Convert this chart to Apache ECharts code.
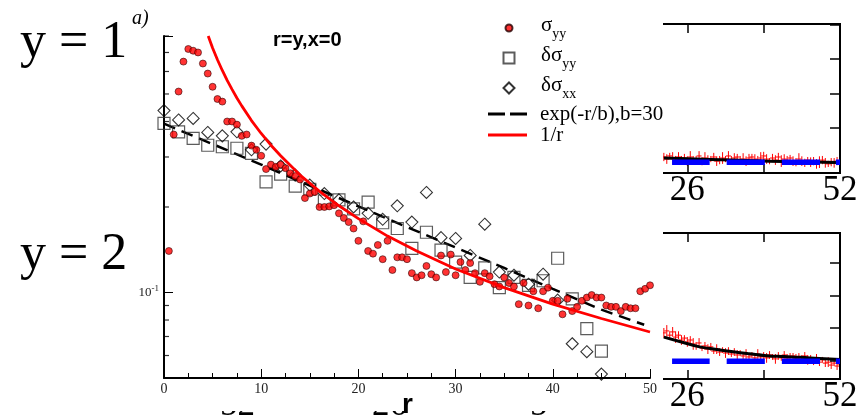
<!DOCTYPE html>
<html><head><meta charset="utf-8">
<script src="https://cdn.jsdelivr.net/npm/echarts@6/dist/echarts.min.js"></script>
<style>html,body{margin:0;padding:0;background:#fff}#c{width:862px;height:419px}</style>
</head><body><div id="c"></div>
<script>
// ---------- main panel data ----------
const sigmaR = [0.5,1,1.5,2,2.5,3,3.5,4,4.5,5,5.5,6,6.5,7,7.5,8,8.5,9,9.5,10,10.5,11,11.5,12,12.5,13,13.5,14,14.5,15,15.5,16,16.5,17,17.5,18,18.5,19,19.5,20,20.5,21,21.5,22,22.5,23,23.5,24,24.5,25,25.5,26,26.5,27,27.5,28,28.5,29,29.5,30,30.5,31,31.5,32,32.5,33,33.5,34,34.5,35,35.5,36,36.5,37,37.5,38,38.5,39,39.5,40,40.5,41,41.5,42,42.5,43,43.5,44,44.5,45,45.5,46,46.5,47,47.5,48,48.5,49,49.5,50];
const sigmaYY = [0.140,0.36,0.51,0.65,0.72,0.71,0.70,0.64,0.59,0.53,
0.48,0.47,0.40,0.40,0.39,0.356,0.36,0.329,0.318,0.303,
0.272,0.282,0.277,0.282,0.274,0.263,0.257,0.250,0.215,0.223,
0.226,0.200,0.200,0.201,0.203,0.190,0.183,0.177,0.168,0.152,
0.178,0.140,0.137,0.147,0.131,0.152,0.120,0.133,0.133,0.131,
0.117,0.113,0.115,0.124,0.116,0.113,0.135,0.118,0.136,0.115,
0.128,0.120,0.127,0.117,0.109,0.117,0.114,0.107,0.105,0.113,
0.108,0.105,0.091,0.108,0.090,0.101,0.088,0.101,0.104,0.0935,
0.0935,0.0838,0.095,0.086,0.089,0.0935,0.096,0.098,0.096,0.096,
0.090,0.089,0.089,0.086,0.089,0.088,0.088,0.101,0.103,0.106];
const deltaR = [0,1.5,3,4.5,6,7.5,9,10.5,12,13.5,15,16.5,18,19.5,21,22.5,24,25.5,27,28.5,30,31.5,33,34.5,36,37.5,39,40.5,42,43.5,45];
const dSigmaYY = [0.394,0.368,0.349,0.330,0.326,0.322,0.309,0.245,0.261,0.237,0.231,0.210,0.212,0.197,0.208,0.176,0.168,0.143,0.163,0.141,0.128,0.113,0.122,0.104,0.113,0.106,0.110,0.132,0.095,0.0746,0.0622];
const dSigmaXX = [0.437,0.405,0.410,0.366,0.356,0.368,0.318,0.333,0.279,0.259,0.239,0.223,0.212,0.200,0.190,0.181,0.202,0.177,0.225,0.156,0.155,0.135,0.174,0.118,0.115,0.107,0.116,0.094,0.066,0.0619,0.0516];
const expR = [0,5,10,15,20,25,30,35,40,45,49.4];
const expV = [0.393,0.333,0.282,0.238,0.201,0.170,0.144,0.122,0.103,0.087,0.077];
const invR = [4.55,5,5.5,6,6.5,7,7.5,8,9,10,11,12,14,16,18,20,23,26,30,35,40,45,50];
const invV = [0.80,0.726,0.660,0.605,0.558,0.519,0.484,0.454,0.403,0.363,0.330,0.303,0.259,0.227,0.202,0.182,0.158,0.140,0.121,0.104,0.091,0.081,0.0726];
const xTickLabels = ['0','10','20','30','40','50'];
const yMinorTicks = [0.06,0.07,0.08,0.09,0.2,0.3,0.4,0.5,0.6,0.7,0.8];

// ---------- right-hand panels data (arbitrary units) ----------
const rpX = [22,22.5,23,23.5,24,24.5,25,25.5,26,26.5,27,27.5,28,28.5,29,29.5,30,30.5,31,31.5,32,32.5,33,33.5,34,34.5,35,35.5,36,36.5,37,37.5,38,38.5,39,39.5,40,40.5,41,41.5,42,42.5,43,43.5,44,44.5,45,45.5,46,46.5,47,47.5,48,48.5,49,49.5,50,50.5,51,51.5,52];
const topRed = [0.16,0.10,0.19,0.13,0.07,0.16,0.10,0.13,0.04,0.16,0.07,0.10,0.19,0.04,0.13,0.07,0.10,0.16,0.04,0.07,0.13,0.10,0.19,0.07,0.13,0.16,0.07,0.10,0.04,0.13,0.16,0.10,0.07,0.13,0.19,0.10,0.04,0.13,0.07,0.16,0.04,0.10,0.07,0.13,0.04,0.01,0.10,0.04,-0.01,0.07,0.01,0.04,-0.04,0.01,0.07,-0.01,-0.04,0.01,-0.01,0.04,0.01];
const topErr = [0.12,0.14,0.09,0.17,0.12,0.14,0.09,0.12,0.14,0.17,0.12,0.09,0.14,0.12,0.17,0.14,0.09,0.12,0.14,0.12,0.17,0.09,0.14,0.12,0.14,0.09,0.12,0.17,0.14,0.12,0.09,0.14,0.12,0.17,0.12,0.14,0.09,0.12,0.14,0.12,0.17,0.14,0.12,0.09,0.14,0.12,0.17,0.14,0.12,0.09,0.14,0.12,0.14,0.17,0.12,0.14,0.09,0.12,0.14,0.12,0.14];
const topFitX = [22,30,40,52];
const topFitV = [0.13,0.09,0.04,0.0];
const botRed = [0.85,0.91,0.78,0.88,0.72,0.78,0.63,0.69,0.57,0.63,0.51,0.45,0.54,0.38,0.45,0.35,0.42,0.29,0.35,0.26,0.32,0.23,0.29,0.20,0.26,0.17,0.23,0.14,0.20,0.11,0.17,0.08,0.20,0.11,0.14,0.08,0.17,0.11,0.05,0.14,0.08,0.17,0.05,0.11,0.14,0.05,0.11,0.08,0.14,0.02,0.08,-0.02,0.05,-0.05,0.02,-0.08,-0.05,-0.14,-0.08,-0.17,-0.11];
const botErr = [0.15,0.18,0.12,0.15,0.18,0.12,0.15,0.09,0.15,0.12,0.18,0.12,0.15,0.09,0.12,0.15,0.12,0.09,0.15,0.12,0.09,0.15,0.12,0.09,0.12,0.15,0.09,0.12,0.15,0.12,0.09,0.12,0.15,0.09,0.12,0.15,0.12,0.09,0.15,0.12,0.09,0.12,0.15,0.12,0.09,0.15,0.12,0.09,0.12,0.15,0.09,0.12,0.15,0.12,0.09,0.12,0.15,0.12,0.09,0.12,0.15];
const botFitX = [22,25,28.1,31,33.8,36.5,39.5,42.5,45.2,48.5,52];
const botFitV = [0.72,0.57,0.42,0.34,0.27,0.21,0.15,0.12,0.10,0.06,0.03];
const blueX = [23.4,29.8,null,32.7,39.2,null,42.1,48.6,null,51.3,52];
const topBlue = 0.01, botBlue = -0.02;
const rpLabels = [26, 52];

const pairs = (xs, ys) => xs.map((x, i) => [x, ys[i]]);
const blueData = v => blueX.map(x => x === null ? ['-', '-'] : [x, v]);

const serif = 'Liberation Serif, Times New Roman, serif';
const sans = 'Liberation Sans, Arial, sans-serif';
const labelMap = {
  'σyy': '{m|σ}{s|yy}',
  'δσyy': '{m|δσ}{s|yy}',
  'δσxx': '{m|δσ}{s|xx}',
  'exp(-r/b),b=30': '{m|exp(-r/b),b=30}',
  '1/r': '{m|1/r}'
};
function mkLegend(name, left, top, iw, ih, pad, icon) {
  return {data: [icon ? {name: name, icon: icon} : name], left: left, top: top,
    itemWidth: iw, itemHeight: ih, padding: 0, selectedMode: false,
    formatter: n => labelMap[n],
    textStyle: {rich: {
      m: {fontFamily: serif, fontSize: 21, color: '#000', verticalAlign: 'top', padding: [0,0,0,pad]},
      s: {fontFamily: serif, fontSize: 14, color: '#000', padding: [13,0,0,0]}
    }}};
}

function errRender(params, api) {
  const x = api.value(0), y = api.value(1), e = api.value(2);
  const p = api.coord([x, y]), hi = api.coord([x, y + e]), lo = api.coord([x, y - e]);
  return {type: 'group', children: [
    {type: 'line', shape: {x1: p[0], y1: hi[1], x2: p[0], y2: lo[1]}, style: {stroke: '#ff0000', lineWidth: 1}},
    {type: 'line', shape: {x1: p[0] - 2.5, y1: p[1], x2: p[0] + 2.5, y2: p[1]}, style: {stroke: '#ff0000', lineWidth: 1}}
  ]};
}

const chart = echarts.init(document.getElementById('c'), null, {renderer: 'canvas'});
const axLine = {show: true, onZero: false, lineStyle: {color: '#000', width: 2}};
const rpXAxis = (grid, pos, margin) => ({
  gridIndex: grid, type: 'value', min: 13, max: 52, interval: 13, position: pos, z: 0,
  axisLine: axLine, splitLine: {show: false},
  axisTick: {show: true, inside: true, length: 9, lineStyle: {color: '#000', width: 1.5}},
  axisLabel: margin != null ? {show: true, customValues: rpLabels, fontFamily: serif, fontSize: 35, color: '#000', margin: margin} : {show: false}
});
const rpYAxis = (grid, min, max) => ({
  gridIndex: grid, type: 'value', min: min, max: max, position: 'right', z: 0,
  axisLine: axLine, splitLine: {show: false}, axisLabel: {show: false},
  axisTick: {show: true, inside: true, length: 10, lineStyle: {color: '#000', width: 1.5}}
});
const rpGrid = (top, height) => ({left: 611, top: top, width: 229, height: height,
  show: true, borderColor: '#000', borderWidth: 2, backgroundColor: 'transparent', z: 0});

chart.setOption({
  animation: false,
  backgroundColor: '#fff',
  title: {text: 'r=y,x=0', left: 273, top: 30, padding: 0,
    textStyle: {fontFamily: sans, fontWeight: 'bold', fontSize: 20, color: '#000'}},
  legend: [
    mkLegend('σyy', 504.5, 14.5, 7, 7, 23.5),
    mkLegend('δσyy', 502.5, 44.5, 11, 11, 21.5),
    mkLegend('δσxx', 502.5, 74.5, 11, 11, 21.5),
    mkLegend('exp(-r/b),b=30', 488, 103.5, 39, 3, 8, 'path://M0,0H17V3H0Z M22,0H39V3H22Z'),
    mkLegend('1/r', 488, 124.5, 39, 3, 8, 'path://M0,0H39V3H0Z')
  ],
  grid: [
    {left: 164, top: 36, width: 486, height: 342},
    rpGrid(24, 149),
    rpGrid(233, 146)
  ],
  xAxis: [
    {gridIndex: 0, type: 'value', min: 0, max: 50, interval: 10, z: 3,
      axisLine: axLine, splitLine: {show: false},
      axisTick: {show: true, inside: true, length: 9, lineStyle: {color: '#000', width: 1}},
      minorTick: {show: true, splitNumber: 4, length: 5, lineStyle: {color: '#000', width: 1}},
      axisLabel: {fontFamily: serif, fontSize: 14, color: '#222', margin: 4,
        formatter: v => xTickLabels[Math.round(v / 10)]}},
    rpXAxis(1, 'bottom', 0),
    rpXAxis(1, 'top', null),
    rpXAxis(2, 'bottom', 0),
    rpXAxis(2, 'top', null)
  ],
  yAxis: [
    {gridIndex: 0, type: 'log', logBase: 10, min: 0.05, max: 0.8, z: 3, position: 'left',
      axisLine: axLine, splitLine: {show: false},
      axisTick: {show: true, inside: true, length: 9, lineStyle: {color: '#000', width: 1}},
      axisLabel: {customValues: [0.1], margin: 5, formatter: () => '{b|10}{s|-1}',
        rich: {b: {fontFamily: serif, fontSize: 13, color: '#222'}, s: {fontFamily: serif, fontSize: 9, color: '#222', padding: [0,0,8,0]}}}},
    rpYAxis(1, -0.304, 4.014),
    rpYAxis(2, -0.569, 3.923)
  ],
  series: [
    {name: 'yMinor', type: 'scatter', xAxisIndex: 0, yAxisIndex: 0, z: 3, clip: false, silent: true,
      symbol: 'rect', symbolSize: [5, 1.2], symbolOffset: [2.5, 0],
      data: yMinorTicks.map(v => [0, v]), itemStyle: {color: '#000'}},
    {name: 'δσyy', type: 'scatter', xAxisIndex: 0, yAxisIndex: 0, z: 4, clip: false,
      symbol: 'rect', symbolSize: 12, data: pairs(deltaR, dSigmaYY),
      itemStyle: {color: 'rgba(255,255,255,0)', borderColor: '#333', borderWidth: 1.2}},
    {name: 'δσxx', type: 'scatter', xAxisIndex: 0, yAxisIndex: 0, z: 4, clip: false,
      symbol: 'diamond', symbolSize: 12, data: pairs(deltaR, dSigmaXX),
      itemStyle: {color: 'rgba(255,255,255,0)', borderColor: '#000', borderWidth: 1.1}},
    {name: 'exp(-r/b),b=30', type: 'line', xAxisIndex: 0, yAxisIndex: 0, z: 4,
      symbol: 'none', data: pairs(expR, expV),
      lineStyle: {color: '#000', width: 2.5, type: [12, 7]}, itemStyle: {color: '#000'}},
    {name: 'σyy', type: 'scatter', xAxisIndex: 0, yAxisIndex: 0, z: 5, clip: false,
      symbol: 'circle', symbolSize: 7, data: pairs(sigmaR, sigmaYY),
      itemStyle: {color: '#ff0000', borderColor: '#200', borderWidth: 0.7}},
    {name: '1/r', type: 'line', xAxisIndex: 0, yAxisIndex: 0, z: 6,
      symbol: 'none', data: pairs(invR, invV),
      lineStyle: {color: '#ff0000', width: 2.8}, itemStyle: {color: '#ff0000'}},
    // right panels
    {type: 'custom', xAxisIndex: 1, yAxisIndex: 1, z: 0, clip: true, renderItem: errRender,
      data: rpX.map((x, i) => [x, topRed[i], topErr[i]])},
    {type: 'line', xAxisIndex: 1, yAxisIndex: 1, z: 0, symbol: 'none', smooth: true,
      data: pairs(topFitX, topFitV), lineStyle: {color: '#000', width: 3}},
    {type: 'line', xAxisIndex: 1, yAxisIndex: 1, z: 0, symbol: 'none', connectNulls: false,
      data: blueData(topBlue), lineStyle: {color: '#0000ff', width: 5.5, cap: 'butt'}},
    {type: 'line', xAxisIndex: 2, yAxisIndex: 1, z: 0, symbol: 'none', data: []},
    {type: 'custom', xAxisIndex: 3, yAxisIndex: 2, z: 0, clip: true, renderItem: errRender,
      data: rpX.map((x, i) => [x, botRed[i], botErr[i]])},
    {type: 'line', xAxisIndex: 3, yAxisIndex: 2, z: 0, symbol: 'none', smooth: true,
      data: pairs(botFitX, botFitV), lineStyle: {color: '#000', width: 3}},
    {type: 'line', xAxisIndex: 3, yAxisIndex: 2, z: 0, symbol: 'none', connectNulls: false,
      data: blueData(botBlue), lineStyle: {color: '#0000ff', width: 5.5, cap: 'butt'}},
    {type: 'line', xAxisIndex: 4, yAxisIndex: 2, z: 0, symbol: 'none', data: []}
  ],
  graphic: [
    {type: 'text', x: 220, y: 423, z: 0, style: {text: '52', fontFamily: serif, fontSize: 35, fill: '#000', textVerticalAlign: 'bottom', verticalAlign: 'bottom'}},
    {type: 'text', x: 372, y: 423, z: 0, style: {text: '26', fontFamily: serif, fontSize: 35, fill: '#000', textVerticalAlign: 'bottom', verticalAlign: 'bottom'}},
    {type: 'text', x: 530, y: 423, z: 0, style: {text: '5', fontFamily: serif, fontSize: 35, fill: '#000', textVerticalAlign: 'bottom', verticalAlign: 'bottom'}},
    {type: 'rect', z: 1, shape: {x: 152, y: 0, width: 511, height: 411}, style: {fill: '#fff'}},
    {type: 'text', x: 20, y: 69, z: 7, style: {text: 'y = 1', fontFamily: serif, fontSize: 52, fill: '#000', textVerticalAlign: 'bottom', verticalAlign: 'bottom'}},
    {type: 'text', x: 132, y: 29, z: 7, style: {text: 'a)', fontFamily: serif, fontStyle: 'italic', fontSize: 20, fill: '#000', textVerticalAlign: 'bottom', verticalAlign: 'bottom'}},
    {type: 'text', x: 20, y: 281, z: 7, style: {text: 'y = 2', fontFamily: serif, fontSize: 52, fill: '#000', textVerticalAlign: 'bottom', verticalAlign: 'bottom'}},
    {type: 'text', x: 402, y: 419, z: 7, style: {text: 'r', fontFamily: sans, fontWeight: 'bold', fontSize: 28, fill: '#000', textVerticalAlign: 'bottom', verticalAlign: 'bottom'}}
  ]
});
</script>
</body></html>
